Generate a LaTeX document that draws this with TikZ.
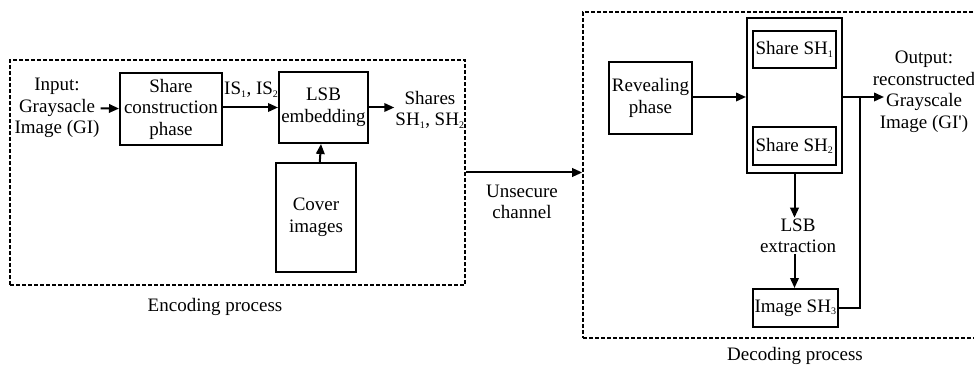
\documentclass[tikz,border=0pt]{standalone}
\usepackage{fontspec}
\setmainfont{Liberation Serif}
\usetikzlibrary{arrows.meta}
\usetikzlibrary{positioning}

\newcommand{\idx}[1]{\textsubscript{\fontsize{10}{10}\selectfont #1}}

\tikzset{
  blk/.style={draw, line width=2pt, align=center, inner sep=1pt},
  grp/.style={draw, dash pattern=on 4pt off 2pt, line width=1.6pt},
  arr/.style={-{Triangle[length=10pt,width=8.5pt]}, line width=2pt},
  txt/.style={align=center, inner sep=1pt},
}

\begin{document}
\begin{tikzpicture}[x=1pt,y=-1pt,font=\fontsize{19}{21.5}\selectfont]
			\useasboundingbox (0,0) rectangle (974,366);
			\clip (0,0) rectangle (974,366);
			
			% encoding
			\begin{scope}
				\node[grp, minimum width=455pt, minimum height=225pt] (enc) at (237.5,172.5) {};
				\node[txt] (input) at (57,108) {Input:\\Graysacle\\Image (GI)};
				\node[blk, minimum width=102pt, minimum height=72pt] (share) at (171,109) {Share\\construction\\phase};
				\node[blk, minimum width=89pt, minimum height=71pt] (lsb) at (323.5,107.5) {LSB\\embedding};
				\node[blk, minimum width=80pt, minimum height=109pt] (cover) at (316,217.5) {Cover\\images};
				\node[txt, anchor=base west] (is) at (223,95) {IS\idx{1}, IS\idx{2}};
				\node[txt] (shares) at (430,110) {Shares\\SH\idx{1}, SH\idx{2}};
				\draw[arr] (input) -- (share);
				\draw[arr] (share.east |- lsb) -- (lsb);
				\draw[arr] (lsb) -- (shares.west |- lsb);
				\draw[arr] (cover) -- (lsb);
				\node[txt] (enclab) at (215,307) {Encoding process};
			\end{scope}
			
			% channel
			\node[grp, minimum width=407pt, minimum height=326pt] (dec) at (786.5,175) {};
			\draw[arr] (enc.east) -- (dec.west |- enc.east);
			\node[txt] (chan) at (522,202) {Unsecure\\channel};
			
			% decoding
			\begin{scope}
				\node[blk, minimum width=83pt, minimum height=72pt] (reveal) at (650.5,98) {Revealing\\phase};
				\node[blk, minimum width=95pt, minimum height=155pt] (outer) at (794.5,95.5) {};
				\node[blk, minimum width=83pt, minimum height=37pt] (sh1) at (794.5,49.5) {Share SH\idx{1}};
				\node[blk, minimum width=83pt, minimum height=38pt] (sh2) at (794.5,146) {Share SH\idx{2}};
				\node[txt] (lsbx) at (798,236) {LSB\\extraction};
				\node[blk, minimum width=85pt, minimum height=38pt] (img3) at (795.5,308) {Image SH\idx{3}};
				\node[txt] (output) at (924,92) {Output:\\reconstructed\\Grayscale\\Image (GI\textquotesingle)};
				\coordinate (junc) at (860,97);
				\coordinate (oarr) at (884,97);
				\draw[arr] (reveal.east |- junc) -- (outer.west |- junc);
				\draw[arr] (outer.south) -- (outer.south |- lsbx.north);
				\draw[arr] (outer.south |- lsbx.south) -- (img3.north -| outer.south);
				\draw[arr] (outer.east |- junc) -- (oarr);
				\draw[line width=2pt] (img3.east) -| (junc);
				\node[txt] (declab) at (795,356) {Decoding process};
			\end{scope}
		\end{tikzpicture}
\end{document}
